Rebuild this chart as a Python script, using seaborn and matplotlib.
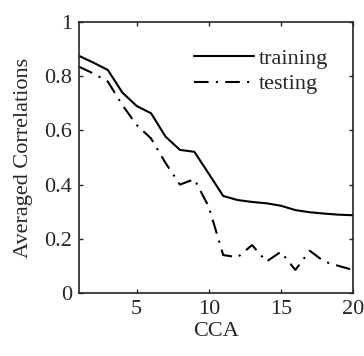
import numpy as np
import pandas as pd
import seaborn as sns
import matplotlib
matplotlib.use("Agg")
import matplotlib.pyplot as plt

cca = list(range(1, 21))
training = [0.875, 0.85, 0.823, 0.74, 0.69, 0.663, 0.577, 0.528, 0.521, 0.44,
            0.358, 0.343, 0.336, 0.331, 0.322, 0.306, 0.298, 0.293, 0.289, 0.287]
testing = [0.835, 0.81, 0.78, 0.694, 0.62, 0.57, 0.48, 0.40, 0.42, 0.318,
           0.14, 0.132, 0.177, 0.116, 0.152, 0.085, 0.156, 0.116, 0.10, 0.085]
series_names = ["training", "testing"]
xticks = [5, 10, 15, 20]
yticks = [0, 0.2, 0.4, 0.6, 0.8, 1]
ytick_labels = ["0", "0.2", "0.4", "0.6", "0.8", "1"]

df = pd.DataFrame({
    "CCA": cca * 2,
    "value": training + testing,
    "series": [series_names[0]] * len(cca) + [series_names[1]] * len(cca),
})

sns.set_style("white")
plt.rcParams["font.family"] = ["Liberation Serif", "DejaVu Serif"]

FS = 16
fig = plt.figure(figsize=(3.64, 3.56), dpi=100)
ax = fig.add_axes([79 / 364, 1 - 293 / 356, (353 - 79) / 364, (293 - 22) / 356])

sns.lineplot(data=df, x="CCA", y="value", hue="series", style="series",
             palette=["black", "black"], dashes=[(None, None), (7, 3.5, 1, 3.5)],
             linewidth=1.5, ax=ax, legend=True)

ax.set_xlim(1, 20)
ax.set_ylim(0, 1)
ax.set_xticks(xticks)
ax.set_yticks(yticks)
ax.set_yticklabels(ytick_labels)
ax.set_xlabel("CCA", fontsize=FS, color="#262626", labelpad=2)
ax.set_ylabel("Averaged Correlations", fontsize=FS, color="#262626", labelpad=8)
ax.tick_params(axis="both", direction="in", length=3, width=1, labelsize=FS,
               colors="#262626", top=True, right=True, bottom=True, left=True,
               pad=5)
for s in ax.spines.values():
    s.set_visible(True)
    s.set_color("#262626")
    s.set_linewidth(1.2)

leg = ax.legend(title=None, frameon=False, fontsize=FS, loc="upper right",
                bbox_to_anchor=(0.983, 0.978), handlelength=2.7, handletextpad=0.25,
                labelspacing=0.24)
for line in leg.get_lines():
    line.set_linewidth(1.5)

fig.savefig("out.png", dpi=100)
